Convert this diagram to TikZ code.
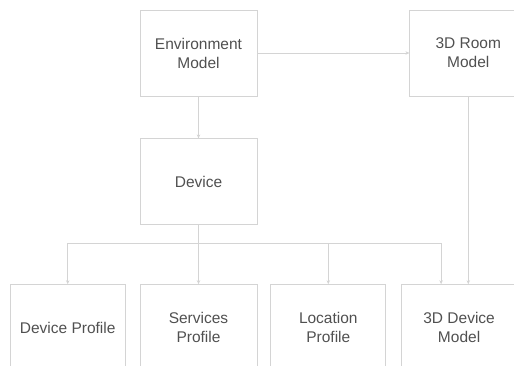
\documentclass[tikz,border=0pt]{standalone}
\usepackage{fontspec}
\setmainfont{Liberation Sans}
\usepackage{tikz}
\usetikzlibrary{positioning,arrows.meta}
\definecolor{edge}{RGB}{212,212,212}
\definecolor{ink}{RGB}{80,80,80}

\begin{document}
\begin{tikzpicture}[x=1pt, y=1pt, >={Stealth[length=4pt,width=3.5pt]},
    box/.style={draw=edge, line width=0.8pt, minimum height=86pt, align=center,
      text=ink, font=\fontsize{15.5}{19}\selectfont},
    wide/.style={box, minimum width=117pt},
    narrow/.style={box, minimum width=115pt},
    link/.style={draw=edge, line width=0.8pt}]
    \useasboundingbox (0,0) rectangle (514,-366);

    \node[wide] (env) at (198.5,-53) {Environment\\Model};
    \node[wide,right=152pt of env] (room) {3D Room\\Model};
    \node[wide,below=42pt of env] (dev) {Device};

    \node[wide,below=59pt of dev] (sp) {Services\\Profile};
    \node[narrow,left=14pt of sp] (dp) {Device Profile};
    \node[narrow,right=13pt of sp] (lp) {Location\\Profile};
    \node[narrow,right=15pt of lp] (dm) {3D Device\\Model};

    \coordinate[below=18pt of dev.south] (bus);

    \draw[link,->] (env) -- (room);
    \draw[link,->] (env) -- (dev);
    \draw[link,->] (dev) -- (sp);
    \draw[link,->] (bus) -| (dp);
    \draw[link,->] (bus) -| (lp);
    \draw[link,->] (bus) -| ([xshift=-18pt]dm.north);
    \draw[link,->] (room) -- (room |- dm.north);
  \end{tikzpicture}
\end{document}
